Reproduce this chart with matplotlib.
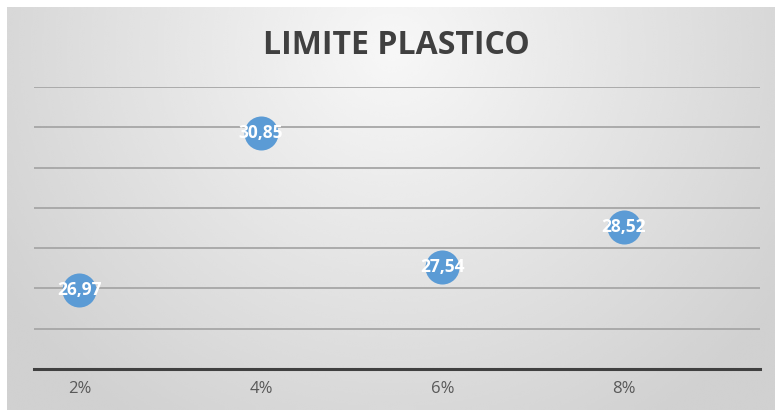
import matplotlib
matplotlib.use("Agg")
import matplotlib.pyplot as plt
import numpy as np

# data
categorias = ["2%", "4%", "6%", "8%"]
limite_plastico = [26.97, 30.85, 27.54, 28.52]
etiquetas = ["26,97", "30,85", "27,54", "28,52"]

fig = plt.figure(figsize=(7.75, 4.12), dpi=100)
fig.patch.set_facecolor("white")

# gradient background (excel style, light at top centre, darker at edges)
bg = fig.add_axes([0.009, 0.005, 0.991, 0.978])
bg.set_axis_off()
h, w = 200, 400
yy, xx = np.mgrid[0:h, 0:w]
dx = (xx - w * 0.5) / (w * 0.6)
dy = (yy - h * 0.1) / (h * 1.1)
r = np.clip(np.sqrt(dx**2 + dy**2), 0, 1)
grad = 0.97 - 0.15 * r
bg.imshow(grad, cmap="gray", vmin=0, vmax=1, aspect="auto", interpolation="bicubic")

ax = fig.add_axes([0.0439, 0.1044, 0.9367, 0.6844])
ax.patch.set_alpha(0)
x = np.arange(len(categorias))

ax.plot(x, limite_plastico, "o", color="#5B9BD5", markersize=24.5, markeredgewidth=0, zorder=3)
for xi, yi, lab in zip(x, limite_plastico, etiquetas):
    ax.text(xi, yi, lab, color="white", fontsize=12.5, fontweight="bold",
            ha="center", va="center", family="Open Sans", zorder=4)

ax.set_ylim(25, 32)
ax.set_xlim(-0.25, 3.75)
ax.set_yticks(np.arange(25, 33, 1))
ax.yaxis.grid(True, color="#a6a6a6", linewidth=1.3)
ax.set_axisbelow(True)
ax.tick_params(axis="y", left=False, labelleft=False)
ax.set_xticks(x)
ax.set_xticklabels(categorias, color="#595959", fontsize=12, family="Open Sans")
ax.tick_params(axis="x", length=0, pad=9)
for s in ["top", "right", "left"]:
    ax.spines[s].set_visible(False)
ax.spines["bottom"].set_color("#404040")
ax.spines["bottom"].set_linewidth(2.2)

fig.text(0.512, 0.89, "LIMITE PLASTICO", ha="center", va="center",
         fontsize=23, fontweight="bold", color="#404040", family="Open Sans")

fig.savefig("out.png", dpi=100)
